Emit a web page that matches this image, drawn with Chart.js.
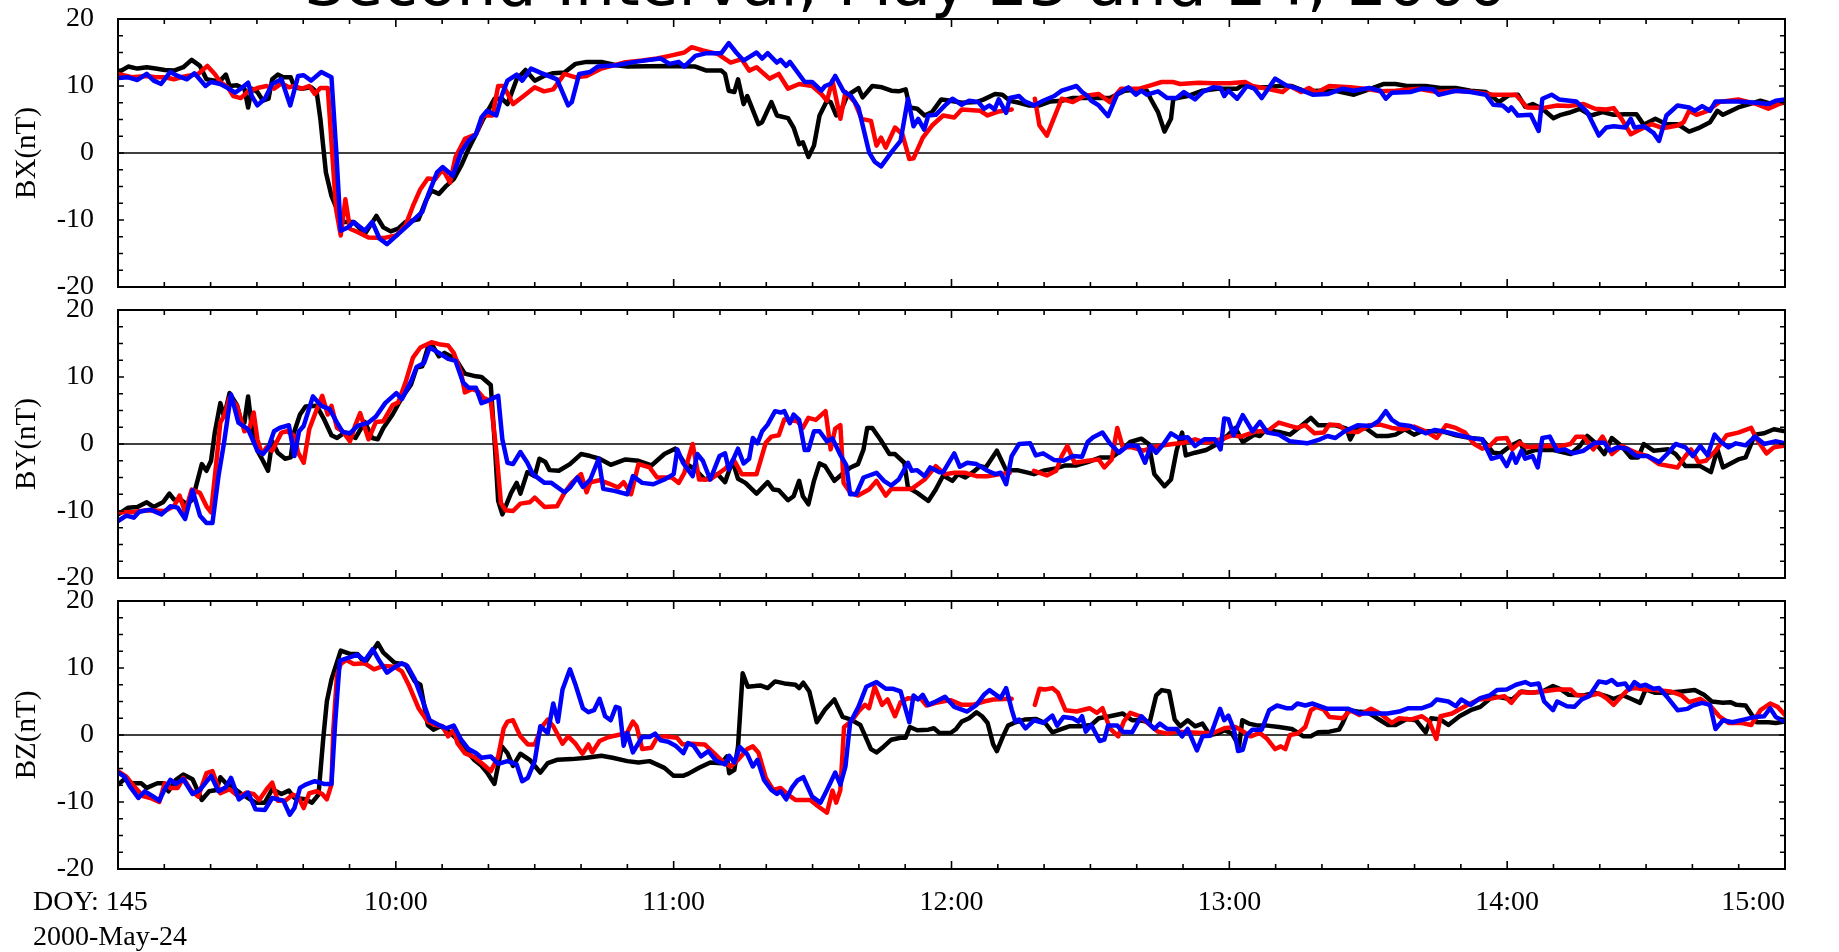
<!DOCTYPE html>
<html><head><meta charset="utf-8">
<script src="https://cdn.jsdelivr.net/npm/chart.js@4.4.0/dist/chart.umd.min.js"></script>
<style>
html,body{margin:0;padding:0;background:#fff;width:1839px;height:952px;overflow:hidden;position:relative}
canvas{position:absolute;left:0}
#title{position:absolute;top:-48px;left:0;width:1812px;text-align:center;font-family:"DejaVu Sans",sans-serif;font-size:63px;line-height:63px;white-space:nowrap;color:#000}
</style></head><body>
<div id="title">Second Interval, May 23 and 24, 2000</div>
<canvas id="c1" width="1839" height="310" style="top:0px"></canvas>
<canvas id="c2" width="1839" height="310" style="top:290px"></canvas>
<canvas id="c3" width="1839" height="371" style="top:581px"></canvas>
<script>
// ---- labels ----
const panelTitles = ['BX(nT)', 'BY(nT)', 'BZ(nT)'];
const hourTicks = [0, 60, 120, 180, 240, 300, 360];          // minutes after 09:00
const hourLabels = ['DOY: 145', '10:00', '11:00', '12:00', '13:00', '14:00', '15:00'];
const dateLabel = '2000-May-24';

// ---- data: [minutes after 09:00, nT] ----
const bxBlack = [[0,12.0],[2.2,12.9],[4.2,12.6],[6.2,12.8],[8.1,12.6],[10.1,12.4],[12.1,12.3],[14.1,12.8],[15.9,13.9],[17.7,13.0],[19.1,11.0],[20.9,10.8],[22.1,10.8],[23.3,11.7],[24.1,10.0],[25.7,10.1],[27.3,9.6],[28.1,6.8],[28.9,9.6],[30.1,9.1],[31.3,7.8],[32.5,8.1],[33.3,11.0],[34.5,11.7],[35.7,11.3],[37.3,11.3],[38.1,9.8],[39.7,9.6],[41.7,9.8],[42.9,9.1],[43.7,5.1],[44.9,-2.9],[46.1,-6.4],[47.3,-8.4],[48.5,-10.3],[50.9,-10.3],[53.3,-12.1],[54.5,-10.8],[55.8,-9.4],[57.3,-11.1],[58.9,-11.7],[60.5,-11.3],[62.1,-10.3],[64.9,-9.9],[66.5,-7.1],[67.7,-5.6],[69.3,-6.1],[70.9,-4.9],[72.5,-3.9],[74.1,-1.9],[75.7,0.6],[77.3,2.8],[78.9,5.1],[81.3,8.1],[82.9,8.1],[84.1,7.3],[86.1,11.0],[88.0,12.4],[90.0,10.8],[92.0,11.5],[94.0,11.9],[96.4,12.0],[98.8,13.3],[101.2,13.6],[104.4,13.6],[107.6,13.1],[110.0,12.9],[119.1,13.0],[124.7,12.9],[127.1,12.3],[130.3,12.3],[131.1,11.8],[131.9,9.3],[133.1,9.1],[133.9,11.0],[135.1,7.3],[135.9,8.5],[138.3,4.3],[139.1,4.6],[141.1,7.6],[142.3,5.6],[144.7,5.2],[145.9,3.8],[147.1,1.3],[147.9,1.6],[149.1,-0.6],[150.3,1.1],[151.5,5.6],[153.1,7.8],[153.9,7.6],[155.1,5.6],[156.3,6.6],[157.5,8.6],[159.9,9.7],[160.8,8.3],[162.9,10.0],[165.0,9.8],[167.0,9.3],[168.6,9.2],[170.1,9.5],[171.0,6.8],[172.6,6.6],[174.2,5.6],[175.8,6.1],[177.8,8.0],[179.8,7.8],[182.2,7.5],[185.4,7.6],[187.0,8.0],[189.4,8.8],[191.0,8.7],[192.6,7.8],[194.6,7.5],[196.6,7.1],[199.0,7.1],[201.4,7.7],[203.8,7.8],[206.2,8.2],[211.0,8.2],[214.2,8.2],[217.4,9.3],[220.6,9.5],[222.2,9.3],[223.0,8.1],[224.6,6.1],[226.0,3.2],[227.4,5.1],[227.9,8.1],[231.0,8.5],[234.2,9.3],[237.4,9.6],[240.1,9.6],[241.7,9.6],[243.4,10.4],[245.0,9.8],[248.2,9.8],[250.7,10.0],[253.5,10.0],[256.4,9.2],[259.6,9.3],[262.9,9.3],[266.9,8.7],[269.4,9.3],[273.4,10.3],[275.9,10.3],[278.3,10.0],[282.4,10.0],[285.6,9.7],[288.9,9.7],[292.1,9.3],[295.4,9.1],[297.0,8.3],[298.2,7.6],[300.3,8.6],[302.3,8.7],[303.9,6.9],[305.5,7.3],[307.6,6.6],[310.0,5.2],[311.6,5.7],[313.3,6.0],[315.7,6.6],[318.1,5.6],[320.6,6.1],[323.0,5.7],[325.5,5.8],[327.9,5.8],[329.5,4.2],[332.0,5.1],[334.4,4.3],[336.8,4.3],[339.3,3.2],[341.3,3.7],[343.8,4.6],[345.4,6.3],[346.6,5.7],[349.9,6.8],[352.3,7.3],[354.7,7.8],[357.2,7.3],[360,7.5]];
const bxRed = [[0,11.8],[3.0,11.3],[6.2,11.5],[8.1,11.3],[10.1,11.3],[12.1,11.0],[14.1,11.4],[17.3,11.8],[19.3,13.0],[20.9,11.8],[22.1,10.6],[23.7,9.8],[24.9,8.5],[26.5,8.2],[28.1,9.2],[30.1,9.7],[32.1,10.0],[33.7,9.6],[35.3,10.4],[36.9,9.8],[38.1,10.0],[39.7,9.6],[41.3,10.0],[42.5,8.8],[43.7,9.7],[45.3,9.7],[46.1,1.6],[47.1,-8.4],[48.1,-12.3],[49.1,-6.9],[50.1,-11.3],[51.7,-11.8],[54.1,-12.6],[57.3,-12.7],[60.1,-12.3],[62.1,-10.8],[63.7,-7.9],[65.3,-5.4],[66.9,-3.8],[68.5,-3.9],[70.1,-2.4],[71.7,-4.4],[72.9,-0.6],[74.9,2.1],[77.3,2.8],[78.9,5.6],[80.9,5.6],[82.1,10.0],[83.3,10.0],[85.3,7.3],[87.6,8.5],[90.0,9.8],[92.0,9.2],[94.0,9.5],[96.4,11.8],[98.8,11.3],[101.2,11.5],[104.4,12.6],[109.2,13.5],[113.2,13.8],[116.4,14.1],[119.1,14.5],[122.3,15.0],[123.9,15.8],[126.3,15.3],[129.5,14.8],[132.3,13.5],[134.7,14.0],[136.3,12.3],[137.9,12.8],[140.7,11.1],[142.7,11.8],[144.7,9.6],[147.1,10.3],[149.9,10.0],[151.9,8.8],[153.1,7.8],[154.3,10.8],[156.0,5.1],[157.1,9.1],[159.1,7.6],[160.6,5.1],[162.6,4.8],[163.8,1.1],[164.8,2.3],[165.8,0.8],[167.8,3.8],[169.4,2.8],[170.9,-0.9],[171.8,-0.8],[173.8,2.3],[175.8,4.1],[178.2,5.6],[180.6,5.3],[182.2,6.5],[186.2,6.3],[187.8,5.6],[190.2,6.2],[193.0,6.5],[195.5,null],[198.0,8.1],[199.0,4.1],[200.6,2.6],[203.8,8.1],[206.2,7.6],[208.6,8.5],[211.8,8.8],[214.2,7.6],[216.6,9.6],[220.6,9.6],[223.0,10.1],[225.4,10.6],[227.8,10.6],[229.4,10.3],[233.4,10.5],[236.5,10.4],[240.1,10.4],[243.4,10.6],[245.0,10.0],[248.2,9.6],[251.5,9.1],[253.1,10.0],[255.5,9.1],[257.2,9.7],[258.8,9.0],[261.6,10.0],[266.1,9.8],[270.2,9.5],[272.6,9.2],[275.9,9.3],[280.8,9.6],[284.8,9.1],[288.9,9.3],[292.9,9.1],[297.0,8.7],[301.9,8.7],[304.3,6.8],[307.6,6.7],[310.8,7.1],[313.3,7.0],[316.5,7.3],[319.0,6.6],[321.4,6.5],[323.0,6.7],[324.7,5.1],[326.7,2.8],[328.7,3.5],[331.2,4.3],[333.6,3.7],[336.8,4.1],[338.1,4.6],[339.3,6.3],[340.9,5.7],[343.3,6.3],[345.8,7.6],[349.9,8.0],[353.9,7.3],[356.4,6.6],[358.0,7.1],[360,7.7]];
const bxBlue = [[0,11.2],[2.2,11.3],[4.2,10.9],[6.2,11.8],[7.7,10.8],[9.3,10.3],[11.3,12.1],[12.9,11.5],[14.9,11.0],[16.5,11.9],[18.9,10.0],[20.1,10.6],[22.1,10.3],[23.7,9.7],[25.3,9.0],[26.5,9.6],[28.1,10.5],[28.9,8.5],[30.1,7.1],[31.7,8.1],[33.3,10.3],[35.3,11.0],[37.2,7.1],[38.9,11.5],[40.1,11.6],[41.7,10.8],[43.9,12.1],[46.1,11.3],[47.1,0.6],[48.1,-11.6],[49.7,-11.1],[50.9,-10.3],[53.3,-11.6],[54.9,-10.3],[56.5,-12.8],[58.1,-13.6],[60.5,-12.1],[62.9,-10.6],[65.7,-8.8],[66.9,-6.4],[68.9,-2.9],[70.1,-2.1],[72.3,-3.4],[74.1,0.1],[75.7,1.8],[77.3,2.8],[78.5,5.3],[79.7,6.3],[81.7,5.6],[82.9,8.6],[84.1,10.8],[86.1,11.7],[87.3,10.8],[89.2,12.6],[91.2,12.0],[94.8,11.0],[97.2,7.1],[98.0,7.6],[99.6,11.8],[102.0,12.1],[103.6,12.9],[107.6,13.1],[111.6,13.6],[114.8,13.9],[117.2,14.1],[119.1,13.3],[121.1,13.6],[122.3,12.9],[124.7,14.5],[127.1,14.9],[130.3,14.9],[131.9,16.4],[133.5,15.0],[135.1,13.8],[136.3,14.3],[137.9,15.0],[139.1,14.1],[140.3,14.9],[142.3,13.5],[143.1,13.9],[144.3,13.0],[145.1,13.6],[148.3,10.6],[149.9,10.6],[151.9,9.3],[152.7,10.0],[153.9,10.3],[154.9,11.5],[156.7,9.2],[158.3,8.5],[159.9,6.8],[161.0,3.6],[162.2,0.1],[163.4,-1.3],[164.8,-2.0],[167.0,0.1],[169.0,1.8],[170.6,8.1],[171.8,4.0],[172.8,5.1],[174.1,3.5],[175.0,5.6],[176.6,5.7],[178.6,7.1],[180.2,8.1],[182.2,7.2],[183.8,7.8],[185.8,7.6],[187.0,6.6],[188.2,7.1],[189.3,6.5],[190.2,8.0],[191.8,6.0],[192.6,8.2],[194.6,8.5],[195.8,7.7],[197.8,7.1],[199.8,7.8],[202.2,8.5],[203.8,9.3],[207.0,10.0],[208.2,9.1],[209.4,8.5],[210.2,7.8],[211.8,7.1],[213.8,5.5],[215.8,8.8],[218.2,9.8],[219.8,8.7],[221.0,9.3],[222.2,8.7],[224.6,9.2],[226.6,8.2],[228.6,8.2],[230.2,9.1],[232.6,8.0],[234.2,9.1],[236.5,9.8],[238.1,9.7],[238.9,8.5],[239.8,9.3],[241.7,8.1],[243.8,10.0],[245.4,9.6],[247.0,8.2],[249.9,11.1],[252.3,10.1],[254.7,9.6],[258.0,8.7],[261.2,8.8],[264.5,9.6],[266.9,9.3],[270.2,9.7],[272.6,9.3],[273.8,8.1],[275.1,9.0],[279.1,9.1],[281.6,9.6],[284.0,9.5],[285.2,8.7],[288.9,9.3],[292.1,9.1],[295.4,8.7],[297.0,7.2],[299.0,7.1],[300.3,6.3],[300.9,6.8],[302.3,5.6],[305.1,5.7],[306.8,3.3],[307.6,8.1],[309.6,8.7],[311.2,8.0],[314.9,7.7],[317.3,6.1],[319.8,2.6],[321.4,3.8],[323.0,4.0],[325.5,3.8],[326.7,5.1],[327.5,3.8],[329.5,4.0],[331.6,3.0],[332.8,1.8],[334.4,5.6],[336.8,7.1],[339.3,6.8],[340.5,6.3],[342.1,7.0],[343.8,6.3],[345.0,7.7],[349.9,7.7],[353.9,7.5],[356.4,7.3],[358.0,7.8],[360,8.0]];

const byBlack = [[0,-10.5],[2.2,-9.5],[4.2,-9.4],[6.2,-8.7],[7.7,-9.4],[9.7,-8.7],[11.1,-7.4],[12.1,-8.3],[13.7,-8.4],[14.9,-9.0],[16.1,-8.3],[18.1,-3.0],[19.1,-4.0],[20.1,-2.5],[20.9,1.7],[22.1,6.1],[22.9,4.1],[24.1,7.6],[25.7,5.8],[26.5,3.6],[27.3,3.2],[28.1,7.1],[28.9,2.4],[30.1,-1.0],[31.3,-2.5],[32.4,-4.0],[33.3,0.4],[34.5,-1.3],[36.1,-2.2],[37.3,-2.0],[38.1,1.9],[39.3,4.4],[40.5,5.6],[42.9,5.7],[44.5,3.7],[46.1,1.3],[47.3,0.9],[48.9,1.7],[51.3,0.9],[53.3,3.3],[54.9,0.9],[56.1,0.7],[57.3,2.4],[59.3,4.4],[61.3,6.9],[63.3,8.9],[64.5,11.4],[65.7,11.6],[66.9,14.4],[68.1,14.5],[69.3,13.1],[70.5,13.6],[72.9,12.7],[74.9,10.5],[77.3,10.1],[78.5,10.0],[80.5,8.8],[81.3,0.7],[82.1,-8.5],[83.0,-10.5],[84.9,-7.3],[86.1,-5.8],[86.9,-7.4],[88.4,-4.2],[90.0,-4.8],[91.0,-2.2],[92.3,-2.7],[93.2,-3.9],[95.2,-4.0],[97.6,-3.0],[100.0,-1.5],[102.0,-1.8],[104.0,-2.2],[106.4,-3.1],[109.6,-2.3],[112.4,-2.5],[115.2,-3.2],[118.0,-1.5],[120.3,-0.7],[122.3,-2.8],[124.7,-3.8],[126.7,-5.3],[129.5,-4.5],[131.1,-5.7],[132.7,-2.5],[133.9,-5.2],[135.5,-5.8],[137.9,-7.4],[140.3,-5.7],[141.5,-6.8],[142.7,-6.9],[144.7,-8.4],[145.9,-7.8],[147.1,-5.5],[147.9,-7.8],[149.1,-9.0],[150.3,-5.5],[151.5,-2.9],[152.7,-3.3],[154.7,-5.5],[156.7,-4.3],[158.2,-3.5],[159.8,-3.0],[161.0,-0.8],[161.8,2.4],[162.9,2.4],[164.6,0.7],[166.6,-1.5],[167.8,-1.5],[169.8,-2.8],[170.6,-6.5],[172.6,-7.3],[175.0,-8.5],[176.6,-6.8],[178.2,-4.7],[180.2,-5.5],[181.4,-4.5],[183.0,-5.0],[185.0,-4.0],[186.2,-3.3],[187.4,-3.5],[189.8,-1.0],[191.8,-3.9],[194.2,-3.9],[197.8,-4.5],[199.8,-4.0],[202.2,-3.7],[204.6,-3.2],[207.0,-3.2],[209.4,-2.7],[212.2,-2.0],[214.6,-2.0],[216.6,-1.0],[218.6,0.3],[221.0,0.8],[222.6,0.0],[223.8,-4.5],[226.0,-6.3],[227.4,-5.3],[228.6,-1.0],[229.8,1.7],[230.6,-1.7],[232.6,-1.3],[235.0,-0.9],[237.4,0.0],[239.8,1.4],[241.3,2.4],[242.9,0.3],[245.4,1.4],[246.6,1.2],[247.8,2.1],[250.7,1.8],[253.1,1.4],[255.5,2.7],[257.6,3.9],[259.2,2.8],[262.9,2.8],[265.3,2.3],[266.1,0.7],[267.3,2.2],[269.4,2.4],[271.8,1.2],[274.2,1.2],[275.9,1.4],[277.9,2.2],[279.9,1.4],[281.6,1.9],[284.0,1.9],[286.4,1.8],[288.9,1.3],[292.1,0.9],[294.6,0.7],[297.0,-1.3],[298.6,-1.4],[300.7,-0.3],[302.7,0.4],[303.9,-1.4],[306.0,-0.9],[310.0,-0.9],[313.7,-1.5],[315.7,-0.3],[317.3,1.2],[319.0,0.2],[321.0,-1.5],[322.6,0.9],[324.7,-0.3],[326.7,-2.0],[328.3,-2.0],[329.5,0.0],[331.6,-1.0],[334.8,-0.8],[336.4,-1.5],[338.5,-3.3],[341.7,-3.3],[344.0,-4.2],[345.4,-0.8],[346.6,-3.5],[349.9,-2.3],[351.5,-2.0],[353.5,1.4],[355.5,1.6],[357.6,2.2],[360,1.9]];
const byRed = [[0,-10.2],[3.0,-10.2],[6.2,-9.9],[10.1,-10.0],[12.1,-9.3],[13.3,-7.7],[14.5,-10.2],[15.9,-6.8],[17.7,-7.3],[19.1,-9.3],[20.1,-10.2],[21.3,-2.3],[22.1,3.2],[22.9,4.2],[24.1,6.9],[25.7,5.7],[27.3,1.9],[28.4,2.4],[29.3,4.7],[30.1,0.7],[31.1,-1.5],[32.1,-0.5],[33.3,-1.0],[35.3,1.7],[36.5,1.9],[38.1,1.2],[38.9,-1.3],[40.1,-2.8],[41.3,2.2],[42.5,4.4],[44.1,7.2],[45.3,4.4],[46.1,5.7],[47.3,2.4],[48.5,1.9],[50.1,0.4],[51.3,2.9],[52.3,4.6],[54.1,0.7],[55.7,3.3],[57.3,3.4],[59.3,5.8],[60.5,6.2],[62.1,9.2],[63.7,12.9],[65.3,14.4],[67.7,15.2],[69.3,14.9],[71.3,14.7],[72.5,13.6],[74.1,10.6],[74.9,7.7],[76.5,8.2],[77.7,7.9],[78.9,6.9],[80.5,6.4],[81.7,-1.0],[82.7,-8.8],[83.7,-9.9],[85.3,-10.0],[86.9,-8.9],[88.9,-8.7],[90.0,-8.0],[92.1,-9.4],[94.8,-9.3],[96.4,-7.3],[98.0,-5.8],[100.0,-4.5],[101.2,-7.2],[102.0,-5.7],[104.0,-5.4],[106.0,-5.9],[108.0,-6.5],[109.2,-5.7],[110.8,-7.5],[112.4,-3.0],[114.8,-3.5],[116.4,-5.0],[119.6,-5.0],[121.1,-5.8],[122.3,-4.3],[124.1,0.0],[125.5,-5.3],[127.9,-5.3],[131.1,-3.7],[133.1,-2.5],[134.7,-4.5],[137.9,-4.5],[139.9,0.2],[141.1,1.1],[142.7,1.3],[143.9,3.7],[146.7,3.4],[147.9,2.4],[149.1,3.9],[150.7,3.6],[152.8,4.9],[153.9,-0.8],[154.9,2.3],[156.0,2.8],[156.7,-5.8],[158.2,-7.3],[159.8,-7.7],[162.2,-6.8],[163.8,-5.5],[165.8,-7.7],[167.0,-6.7],[171.4,-6.7],[174.2,-5.3],[176.6,-3.3],[178.6,-4.5],[180.6,-4.3],[183.0,-4.3],[185.4,-4.8],[187.8,-4.8],[190.6,-4.5],[192.6,-4.3],[195.3,null],[197.8,-4.0],[200.6,-4.7],[202.6,-4.0],[203.8,-1.8],[205.0,-0.3],[206.6,-2.8],[209.4,-2.5],[211.8,-2.3],[213.0,-3.5],[214.6,-2.3],[215.8,2.4],[217.0,-0.5],[219.0,-0.5],[221.4,-1.0],[224.6,-0.3],[227.8,0.0],[230.2,0.2],[232.6,0.7],[235.0,0.2],[238.2,0.7],[240.6,1.3],[242.5,1.1],[245.8,1.9],[248.2,1.9],[250.7,3.2],[253.1,2.7],[254.7,2.4],[256.4,2.8],[258.4,1.6],[260.4,1.7],[261.6,2.9],[263.7,2.8],[265.3,1.9],[267.7,1.8],[270.2,2.8],[272.6,2.9],[275.1,2.4],[277.5,2.2],[279.9,2.6],[282.4,1.9],[284.8,0.9],[286.8,2.8],[288.9,2.4],[290.9,1.7],[292.9,0.0],[294.6,-0.7],[296.2,-0.3],[297.8,0.8],[299.9,0.9],[301.1,-0.8],[302.7,0.2],[304.3,-0.5],[306.0,-0.4],[308.4,-0.3],[311.6,-0.3],[313.7,0.0],[314.9,1.1],[316.5,1.1],[318.6,-0.8],[320.6,1.1],[322.6,-1.5],[324.7,-0.3],[327.9,-1.3],[330.3,-1.8],[332.8,-3.0],[334.4,-3.2],[336.8,-3.5],[338.5,-1.8],[339.7,-0.8],[341.3,-2.7],[342.9,-2.5],[345.0,-1.0],[347.4,1.3],[349.9,1.7],[352.7,2.4],[353.9,0.7],[356.0,-1.4],[357.6,-0.5],[360,-0.2]];
const byBlue = [[0,-11.5],[1.8,-10.7],[3.4,-11.0],[4.6,-10.1],[7.0,-9.8],[9.4,-10.5],[11.3,-9.3],[12.9,-9.5],[14.5,-11.2],[16.1,-6.9],[17.7,-10.7],[19.1,-11.8],[20.4,-11.8],[21.7,-4.8],[22.9,0.2],[24.4,7.4],[26.0,3.2],[28.1,2.2],[30.1,-1.0],[31.3,-1.5],[32.5,-0.5],[33.7,1.9],[34.9,2.4],[36.9,2.8],[38.1,-1.8],[39.1,1.9],[40.1,2.7],[42.1,7.1],[43.9,5.7],[45.7,5.2],[47.3,3.2],[48.5,1.8],[50.1,1.6],[51.7,2.7],[54.1,3.2],[55.7,4.1],[57.7,6.1],[60.1,7.6],[61.3,6.7],[63.3,9.4],[64.5,11.5],[66.1,12.1],[67.3,14.4],[69.3,13.6],[71.3,12.7],[72.9,12.4],[74.5,9.2],[75.7,8.4],[77.3,8.4],[78.5,6.1],[79.7,6.4],[82.1,7.2],[83.0,0.7],[84.1,-2.8],[85.3,-3.0],[86.9,-1.2],[88.4,-2.8],[89.6,-4.5],[92.1,-5.8],[93.6,-5.8],[96.4,-7.2],[97.6,-6.5],[99.2,-5.0],[100.4,-6.4],[102.0,-5.3],[103.8,-2.2],[104.8,-6.7],[107.2,-7.0],[110.0,-7.5],[111.2,-4.8],[113.2,-5.8],[115.6,-6.0],[118.0,-5.3],[120.0,-4.5],[120.8,-0.8],[122.0,-2.8],[124.1,-4.8],[125.1,-1.5],[126.3,-2.5],[127.9,-5.3],[129.9,-1.8],[131.1,-1.4],[131.9,-3.8],[133.9,-0.7],[135.1,-2.9],[136.3,-2.2],[137.1,0.9],[138.1,0.1],[139.1,1.9],[140.3,2.9],[141.9,4.9],[143.1,4.7],[143.9,4.9],[145.1,3.1],[145.9,4.4],[147.1,3.6],[148.3,-0.9],[149.1,-0.9],[150.3,1.9],[151.5,1.9],[153.1,0.4],[154.3,0.8],[155.9,-1.5],[157.3,-3.2],[158.1,-7.5],[159.4,-7.5],[161.0,-5.0],[163.8,-4.3],[165.4,-5.5],[167.0,-6.2],[168.6,-5.3],[170.6,-2.8],[171.4,-4.0],[172.6,-3.9],[174.2,-4.8],[175.4,-3.5],[177.4,-4.2],[178.2,-4.2],[180.6,-1.4],[181.8,-3.4],[183.4,-2.8],[185.4,-3.0],[187.8,-4.0],[189.4,-4.5],[190.6,-4.3],[191.8,-6.0],[193.0,-1.8],[194.6,0.0],[197.0,0.1],[198.2,-1.7],[199.8,-1.4],[202.2,-2.4],[204.2,-2.5],[206.2,-1.8],[208.2,-1.9],[209.4,0.3],[210.6,1.0],[212.6,1.7],[214.2,0.1],[216.2,-1.3],[218.2,-0.2],[220.2,-0.3],[221.8,-2.8],[223.0,-0.3],[224.2,-1.3],[225.8,0.0],[227.4,1.6],[229.0,0.9],[231.0,1.0],[232.6,-0.3],[234.6,0.7],[236.9,0.7],[238.1,-0.8],[238.9,3.8],[239.8,3.7],[240.9,1.3],[242.9,4.3],[245.0,1.9],[246.6,3.3],[248.2,1.7],[250.7,1.4],[253.1,0.4],[256.8,0.1],[259.6,0.7],[261.2,1.2],[262.9,0.9],[264.9,1.9],[267.7,2.8],[270.6,2.7],[272.2,3.4],[273.8,4.9],[275.1,3.6],[276.7,2.9],[279.1,2.7],[280.8,2.1],[282.4,1.6],[284.4,2.1],[286.8,1.8],[289.7,1.3],[292.9,0.8],[294.6,0.7],[296.6,-2.2],[298.6,-1.8],[299.9,-3.3],[301.1,-1.4],[301.9,-2.8],[303.1,-1.0],[303.9,-2.2],[305.5,-1.8],[306.6,-3.5],[307.6,0.9],[309.2,1.1],[310.8,-1.0],[312.5,-0.8],[314.1,-1.4],[316.5,-1.0],[319.0,0.2],[321.0,0.2],[322.2,-1.0],[323.8,-0.5],[325.9,-0.7],[327.9,-1.8],[330.3,-1.8],[332.8,-2.7],[334.8,-1.3],[336.4,0.0],[338.5,-0.5],[340.1,-1.8],[341.7,-0.3],[343.3,-1.7],[344.8,1.4],[346.2,0.3],[347.8,-0.5],[349.4,0.1],[351.5,-0.2],[353.5,1.1],[355.5,0.0],[357.9,0.4],[360,0.1]];

const bzBlack = [[0,-7.4],[1.4,-6.6],[3.0,-7.2],[5.0,-7.2],[6.2,-7.9],[8.5,-7.2],[9.7,-7.2],[10.9,-8.4],[12.5,-6.7],[14.1,-5.9],[16.1,-6.6],[18.1,-9.7],[19.7,-8.4],[21.3,-8.2],[22.1,-6.3],[23.3,-7.2],[24.5,-7.7],[26.5,-8.7],[28.1,-9.4],[29.7,-10.1],[31.7,-10.1],[33.3,-8.1],[35.3,-8.8],[36.9,-8.3],[38.1,-9.4],[40.5,-9.6],[41.9,-10.1],[43.3,-8.9],[44.3,-0.7],[45.1,5.0],[46.1,8.3],[48.1,12.6],[50.1,12.1],[51.7,12.1],[53.3,10.7],[54.5,12.0],[56.1,13.7],[57.3,12.3],[59.7,10.8],[62.1,10.5],[64.1,8.0],[65.3,7.5],[66.9,1.5],[68.1,0.8],[69.7,1.3],[71.7,0.4],[73.3,-0.7],[74.9,-2.1],[76.9,-3.7],[78.5,-4.6],[79.7,-5.6],[81.3,-7.3],[82.9,-1.7],[84.1,-2.7],[85.3,-4.6],[86.9,-2.8],[88.9,-3.7],[91.2,-5.6],[92.8,-4.2],[94.8,-3.7],[98.0,-3.6],[101.2,-3.4],[104.4,-3.1],[106.8,-3.4],[110.0,-3.9],[112.4,-4.1],[114.8,-3.9],[118.0,-4.9],[120.0,-6.1],[122.0,-6.1],[123.1,-5.8],[125.5,-4.9],[127.9,-4.1],[130.3,-4.2],[131.5,-3.2],[132.0,-5.7],[133.1,-5.2],[133.9,-1.7],[134.9,9.2],[136.0,7.2],[137.5,7.3],[138.7,7.4],[140.3,7.0],[141.9,8.0],[143.9,7.7],[146.3,7.5],[147.1,7.0],[148.0,7.8],[149.3,6.5],[150.9,1.9],[152.7,3.8],[154.7,5.3],[156.5,2.7],[158.3,2.3],[160.3,1.5],[161.4,-0.2],[162.6,-2.1],[163.8,-2.6],[165.4,-1.7],[167.0,-0.7],[169.0,-0.4],[170.1,-0.4],[171.0,1.2],[172.6,0.7],[175.0,0.8],[176.2,1.0],[177.4,0.3],[179.8,0.3],[181.0,0.9],[182.2,2.0],[183.8,2.5],[185.4,3.4],[186.6,2.8],[187.8,1.8],[189.0,-1.4],[189.8,-2.4],[191.0,-0.4],[192.2,1.4],[193.8,1.9],[195.8,2.3],[198.2,2.4],[200.2,1.8],[201.8,0.4],[203.4,0.8],[205.4,1.3],[207.8,1.3],[210.2,1.5],[211.8,2.5],[214.2,2.8],[217.0,3.2],[219.0,2.2],[220.6,2.2],[222.8,1.9],[224.2,5.9],[225.4,6.7],[227.0,6.5],[228.2,2.3],[229.4,1.3],[231.0,2.2],[232.6,1.3],[234.2,1.7],[235.8,0.0],[237.4,0.2],[239.0,0.7],[240.6,0.2],[242.1,-1.7],[242.8,2.2],[244.2,1.7],[246.2,1.4],[248.2,1.4],[250.7,1.2],[253.5,0.9],[256.0,-0.2],[257.6,-0.2],[259.2,0.4],[261.6,0.5],[263.7,0.8],[264.5,1.8],[265.7,3.7],[267.7,3.5],[269.8,3.4],[271.0,2.9],[272.6,2.2],[274.2,1.5],[275.9,1.5],[278.3,2.4],[280.3,2.2],[282.4,0.4],[283.6,2.5],[285.6,2.3],[287.3,1.5],[289.7,2.8],[292.1,3.7],[294.2,4.2],[297.0,5.8],[299.4,5.5],[301.1,5.3],[303.1,6.5],[305.1,6.3],[307.6,6.5],[309.9,7.3],[311.6,6.8],[313.3,6.0],[316.5,5.9],[319.0,6.3],[321.4,5.8],[323.0,5.4],[325.1,5.9],[327.1,5.3],[328.7,4.8],[329.9,6.8],[332.0,6.3],[334.4,6.3],[337.7,6.5],[340.5,6.7],[342.5,6.0],[344.2,5.0],[346.6,4.8],[348.2,4.9],[349.5,4.5],[351.5,4.4],[353.9,1.9],[356.4,1.9],[358.0,1.8],[360,2.0]];
const bzRed = [[0,-5.4],[1.8,-6.2],[3.4,-7.6],[5.4,-9.1],[7.0,-9.4],[8.9,-10.0],[10.1,-7.2],[11.3,-7.9],[12.9,-7.9],[14.1,-6.4],[15.7,-8.2],[17.3,-9.2],[19.1,-5.7],[20.4,-5.4],[22.1,-8.7],[24.1,-8.1],[26.1,-9.2],[27.7,-8.6],[29.3,-8.8],[30.5,-9.7],[32.1,-8.1],[33.3,-7.1],[34.5,-9.8],[36.1,-9.8],[37.7,-8.9],[38.9,-9.2],[40.1,-10.9],[41.3,-8.7],[42.9,-8.4],[44.1,-8.8],[45.1,-9.6],[46.1,-7.4],[46.5,0.8],[47.3,9.0],[48.1,10.6],[49.3,11.2],[50.9,10.6],[53.3,10.7],[55.3,9.8],[57.3,10.3],[59.7,10.2],[61.3,9.5],[62.9,7.3],[64.9,4.0],[66.9,2.0],[68.5,1.5],[70.1,1.3],[71.3,-0.2],[72.5,0.8],[73.3,-1.2],[74.9,-2.7],[76.9,-3.3],[78.9,-4.4],[80.5,-5.4],[82.1,-3.2],[83.3,1.0],[84.1,2.0],[85.3,2.2],[86.9,-0.2],[88.5,-1.4],[90.0,-1.4],[91.5,1.2],[92.8,2.3],[94.0,1.3],[96.0,-1.3],[97.2,-0.2],[98.8,-1.3],[100.3,-2.8],[101.6,-1.4],[102.4,-2.6],[104.0,-0.9],[106.0,-0.3],[108.0,0.0],[109.9,0.3],[111.2,2.0],[112.0,1.3],[113.2,-2.1],[115.2,-1.9],[116.4,-0.4],[118.0,-0.2],[120.7,-0.4],[121.9,-1.4],[123.9,-1.3],[126.7,-1.4],[128.7,-2.7],[130.3,-3.8],[132.3,-4.7],[133.9,-3.7],[135.9,-2.1],[137.1,-1.7],[138.3,-2.6],[139.9,-6.4],[141.5,-8.2],[143.1,-7.9],[144.7,-8.9],[146.3,-9.7],[149.5,-9.7],[151.1,-10.6],[153.1,-11.6],[154.3,-8.3],[155.1,-10.1],[156.0,-8.2],[156.8,1.2],[158.3,2.0],[159.9,3.5],[161.3,4.5],[162.2,4.0],[163.4,7.2],[165.0,4.5],[166.2,5.3],[167.8,2.8],[169.0,4.9],[170.6,5.5],[173.4,5.4],[174.6,4.4],[176.6,4.8],[179.8,5.2],[182.2,4.5],[184.6,4.5],[187.0,5.0],[189.0,5.3],[193.0,5.4],[195.5,null],[198.0,4.5],[199.0,6.9],[200.2,6.8],[201.8,7.0],[203.0,6.3],[204.6,3.7],[207.0,3.5],[209.8,4.0],[211.4,3.3],[212.6,4.0],[214.2,1.0],[216.0,-0.2],[217.2,2.0],[218.6,3.3],[220.6,2.8],[223.0,1.4],[224.6,0.5],[226.6,0.2],[228.6,0.5],[231.0,0.4],[234.2,0.3],[236.5,0.3],[238.9,1.0],[241.3,1.2],[242.1,0.9],[244.6,-0.2],[246.6,0.3],[248.2,-0.6],[249.9,-2.1],[251.1,-1.7],[252.1,-2.1],[253.1,0.0],[254.7,0.2],[256.4,1.2],[257.6,3.7],[258.8,4.2],[260.4,3.8],[261.6,2.7],[264.5,2.5],[266.1,3.7],[268.1,3.0],[270.6,3.9],[272.6,3.2],[275.1,1.8],[276.7,2.5],[279.1,2.3],[281.6,2.8],[283.2,2.0],[284.7,-0.6],[285.6,2.8],[288.1,3.2],[290.9,4.3],[293.8,5.3],[297.0,5.5],[299.4,5.8],[300.9,4.8],[302.7,6.4],[305.1,6.3],[307.6,6.5],[310.8,6.8],[313.7,6.8],[314.9,6.0],[317.3,5.8],[319.8,6.2],[321.4,5.5],[323.0,4.5],[324.7,5.8],[326.3,6.9],[327.9,7.0],[329.5,6.8],[332.0,6.7],[335.2,6.5],[337.7,5.9],[339.3,4.9],[341.7,5.4],[343.8,4.4],[345.8,2.8],[347.8,1.8],[350.7,1.8],[352.7,1.5],[354.7,3.7],[356.8,4.7],[358.4,4.2],[360,3.0]];
const bzBlue = [[0,-5.6],[1.4,-6.2],[2.6,-7.7],[4.4,-9.4],[5.8,-8.4],[7.4,-9.1],[8.9,-9.8],[10.0,-8.2],[11.3,-6.7],[12.5,-7.3],[14.1,-6.6],[16.1,-8.8],[17.7,-8.2],[20.1,-6.1],[21.7,-8.4],[23.3,-7.8],[24.4,-6.4],[26.1,-9.6],[28.1,-8.6],[29.7,-11.1],[31.7,-11.2],[33.3,-9.4],[35.7,-9.8],[37.1,-11.9],[38.1,-10.9],[39.3,-7.9],[40.5,-7.4],[42.5,-6.9],[44.5,-7.3],[46.1,-7.3],[46.9,1.8],[47.9,11.1],[49.7,11.5],[51.7,12.0],[53.3,11.1],[55.0,12.8],[56.5,11.0],[58.1,9.3],[59.7,10.1],[61.3,10.7],[62.5,10.3],[64.1,8.3],[65.7,5.3],[67.3,2.2],[69.3,1.5],[70.9,1.0],[72.5,1.4],[74.1,-0.7],[75.7,-2.1],[77.3,-2.7],[78.5,-3.4],[80.5,-3.2],[82.1,-4.3],[84.1,-3.9],[86.1,-4.4],[87.3,-6.9],[88.5,-6.4],[90.0,-3.9],[91.2,1.3],[92.8,0.3],[94.0,4.7],[95.0,2.0],[96.0,6.8],[97.6,9.8],[98.8,7.5],[100.4,4.0],[101.6,3.4],[102.8,3.7],[104.0,5.4],[105.2,2.8],[106.4,2.2],[107.5,4.2],[108.3,4.0],[109.2,-1.6],[110.0,0.3],[111.2,-2.6],[113.2,-0.3],[114.8,-0.3],[116.0,0.2],[117.2,-0.8],[118.8,-1.0],[120.4,-1.6],[122.1,-2.7],[123.1,-1.2],[124.3,-1.6],[125.9,-3.2],[127.5,-2.4],[129.1,-3.8],[131.1,-4.4],[132.0,-3.1],[133.1,-4.1],[134.3,-1.8],[135.9,-2.9],[137.1,-4.7],[138.1,-3.7],[139.5,-6.7],[141.1,-8.2],[142.3,-8.8],[143.1,-8.4],[144.3,-9.6],[145.5,-7.9],[146.7,-6.8],[148.0,-6.3],[149.9,-9.2],[151.7,-10.1],[153.1,-8.2],[154.9,-5.6],[156.0,-7.4],[157.1,-4.7],[158.1,1.8],[159.9,4.2],[161.6,7.2],[163.8,7.9],[165.8,6.9],[167.4,6.9],[169.0,6.5],[170.9,1.9],[171.8,5.9],[172.8,5.3],[173.8,6.0],[175.0,4.5],[176.6,5.0],[178.6,5.7],[180.6,4.2],[183.4,3.5],[185.4,4.5],[187.0,6.0],[188.2,6.7],[190.6,5.5],[191.8,7.0],[193.0,3.8],[193.8,2.0],[194.6,2.3],[196.0,1.0],[197.8,2.2],[199.8,1.8],[201.8,2.9],[202.8,1.4],[204.2,2.7],[206.2,2.5],[207.4,2.0],[208.2,2.8],[209.0,0.5],[210.2,1.5],[212.0,-0.9],[213.0,-0.7],[213.8,1.4],[215.8,1.4],[217.0,0.5],[219.0,0.4],[221.0,2.8],[222.2,2.0],[223.8,0.9],[225.0,1.7],[226.6,0.9],[228.6,0.9],[229.8,-0.2],[231.0,0.9],[233.0,-2.3],[234.2,-0.2],[235.9,-0.1],[236.9,1.8],[238.0,3.9],[238.9,2.2],[239.8,2.9],[241.0,0.8],[241.9,-2.4],[242.9,-2.2],[243.8,0.0],[245.0,0.8],[247.0,0.8],[248.6,3.7],[250.3,4.4],[252.3,4.0],[253.5,4.0],[254.7,4.7],[256.4,4.4],[258.0,4.7],[259.2,4.4],[261.2,3.9],[263.7,3.9],[265.7,3.9],[268.1,3.2],[271.0,3.2],[274.2,3.2],[276.7,3.5],[278.7,4.0],[281.6,4.0],[283.6,4.5],[284.8,5.3],[287.3,5.0],[288.9,4.3],[290.1,5.3],[292.1,4.5],[294.2,5.5],[296.2,5.9],[297.8,6.7],[299.9,6.8],[301.9,7.5],[303.9,7.9],[305.1,7.5],[306.8,7.7],[308.0,5.0],[309.9,3.7],[310.8,5.0],[312.9,4.3],[314.5,4.2],[316.1,5.3],[317.7,5.8],[319.8,8.0],[321.4,7.8],[322.6,8.2],[323.8,7.5],[325.5,7.7],[326.4,6.8],[327.5,7.9],[328.7,7.3],[329.9,7.5],[331.6,6.9],[332.8,7.0],[334.4,5.8],[336.8,3.7],[338.9,3.9],[340.1,4.4],[342.1,4.8],[343.8,4.5],[345.0,0.9],[346.6,2.2],[348.6,1.9],[351.1,2.3],[353.5,2.7],[355.5,2.8],[356.8,4.0],[358.0,2.7],[360,2.0]];

// ---- rendering ----
const SERIF = '"Liberation Serif", "Times New Roman", serif';
const toXY = arr => arr.map(p => ({x: p[0], y: p[1]}));

const framePlugin = {
  id: 'frame',
  beforeDatasetsDraw(chart) {
    const {ctx, chartArea: a, scales: {y}} = chart;
    const y0 = y.getPixelForValue(0);
    ctx.save();
    ctx.strokeStyle = '#000'; ctx.lineWidth = 1.3;
    ctx.beginPath(); ctx.moveTo(a.left, y0); ctx.lineTo(a.right, y0); ctx.stroke();
    ctx.restore();
  },
  afterDatasetsDraw(chart, args, opts) {
    const {ctx, chartArea: a, scales: {x, y}} = chart;
    ctx.save();
    ctx.strokeStyle = '#000'; ctx.lineWidth = 2;
    ctx.strokeRect(a.left, a.top, a.right - a.left, a.bottom - a.top);
    ctx.lineWidth = 1.6;
    ctx.beginPath();
    for (let m = 0; m <= 360; m += 10) {
      const px = x.getPixelForValue(m);
      const len = (m % 60 === 0) ? 8 : 5;
      ctx.moveTo(px, a.top); ctx.lineTo(px, a.top + len);
      ctx.moveTo(px, a.bottom); ctx.lineTo(px, a.bottom - len);
    }
    for (let v = -20; v <= 20; v += 2.5) {
      const py = y.getPixelForValue(v);
      const len = (v % 10 === 0) ? 6 : 5;
      ctx.moveTo(a.left, py); ctx.lineTo(a.left + len, py);
      ctx.moveTo(a.right, py); ctx.lineTo(a.right - len, py);
    }
    ctx.stroke();
    if (opts.showX) {
      ctx.fillStyle = '#000';
      ctx.font = '28px ' + SERIF;
      ctx.textBaseline = 'middle';
      const last = hourTicks.length - 1;
      hourTicks.forEach((m, i) => {
        if (i === 0) {
          ctx.textAlign = 'left';
          ctx.fillText(hourLabels[i], 33, a.bottom + 34);
          ctx.fillText(dateLabel, 33, a.bottom + 69);
        } else if (i === last) {
          ctx.textAlign = 'right';
          ctx.fillText(hourLabels[i], x.getPixelForValue(m), a.bottom + 34);
        } else {
          ctx.textAlign = 'center';
          ctx.fillText(hourLabels[i], x.getPixelForValue(m), a.bottom + 34);
        }
      });
    }
    ctx.restore();
  }
};

function makeChart(id, title, black, red, blue, pad, showX) {
  const ds = (data, color, order) => ({
    data: toXY(data), borderColor: color, borderWidth: 4.5, pointRadius: 0,
    tension: 0, spanGaps: false, fill: false, order,
    borderJoinStyle: 'round', borderCapStyle: 'round'
  });
  return new Chart(document.getElementById(id), {
    type: 'line',
    data: { datasets: [ds(black, '#000000', 3), ds(red, '#ff0000', 2), ds(blue, '#0000ff', 1)] },
    options: {
      responsive: false, animation: false, devicePixelRatio: 1,
      layout: { padding: { left: 0, right: 54, top: pad[0], bottom: pad[1] } },
      plugins: { legend: { display: false }, tooltip: { enabled: false }, frame: { showX } },
      scales: {
        x: { type: 'linear', min: 0, max: 360, display: false },
        y: {
          min: -20, max: 20,
          afterFit: s => { s.width = 118; s.paddingTop = 0; s.paddingBottom = 0; },
          ticks: { stepSize: 10, padding: 24, color: '#000', font: { family: SERIF, size: 28 } },
          grid: { display: false, drawTicks: false },
          border: { display: false },
          title: { display: true, text: title, color: '#000', font: { family: SERIF, size: 29 }, padding: { top: 10, bottom: 0 } }
        }
      }
    },
    plugins: [framePlugin]
  });
}

makeChart('c1', panelTitles[0], bxBlack, bxRed, bxBlue, [19, 23], false);
makeChart('c2', panelTitles[1], byBlack, byRed, byBlue, [20, 22], false);
makeChart('c3', panelTitles[2], bzBlack, bzRed, bzBlue, [20, 83], true);
</script>
</body></html>
